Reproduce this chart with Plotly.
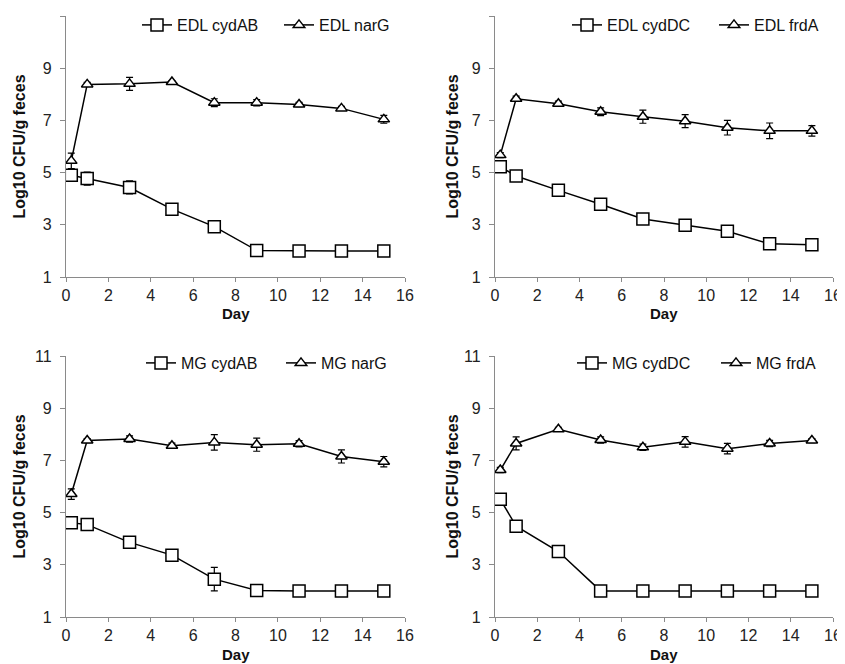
import plotly.graph_objects as go

days = [0.25, 1, 3, 5, 7, 9, 11, 13, 15]

# Panel A: EDL cydAB / EDL narG
edl_cydAB = [4.90, 4.77, 4.43, 3.60, 2.93, 2.02, 2.00, 2.00, 2.00]
edl_cydAB_err = [0.20, 0.25, 0.25, 0.05, 0.08, 0.0, 0.0, 0.0, 0.0]
edl_narG = [5.45, 8.38, 8.40, 8.47, 7.68, 7.68, 7.61, 7.46, 7.04]
edl_narG_err = [0.30, 0.08, 0.25, 0.05, 0.15, 0.12, 0.08, 0.08, 0.15]

# Panel B: EDL cydDC / EDL frdA
edl_cydDC = [5.22, 4.87, 4.32, 3.79, 3.22, 2.98, 2.75, 2.27, 2.24]
edl_cydDC_err = [0.08, 0.05, 0.05, 0.05, 0.05, 0.12, 0.12, 0.10, 0.05]
edl_frdA = [5.67, 7.83, 7.64, 7.33, 7.14, 6.97, 6.72, 6.60, 6.60]
edl_frdA_err = [0.10, 0.10, 0.10, 0.15, 0.25, 0.25, 0.28, 0.30, 0.20]

# Panel C: MG cydAB / MG narG
mg_cydAB = [4.61, 4.54, 3.86, 3.37, 2.45, 2.02, 2.00, 2.00, 2.00]
mg_cydAB_err = [0.10, 0.05, 0.05, 0.12, 0.45, 0.0, 0.0, 0.0, 0.0]
mg_narG = [5.71, 7.76, 7.82, 7.56, 7.69, 7.60, 7.64, 7.15, 6.95]
mg_narG_err = [0.20, 0.08, 0.12, 0.10, 0.30, 0.25, 0.12, 0.25, 0.20]

# Panel D: MG cydDC / MG frdA
mg_cydDC = [5.51, 4.48, 3.51, 2.00, 2.00, 2.00, 2.00, 2.00, 2.00]
mg_cydDC_err = [0.05, 0.05, 0.0, 0.0, 0.0, 0.0, 0.0, 0.0, 0.0]
mg_frdA = [6.63, 7.65, 8.19, 7.78, 7.50, 7.71, 7.45, 7.65, 7.76]
mg_frdA_err = [0.10, 0.25, 0.08, 0.12, 0.12, 0.20, 0.20, 0.12, 0.08]

panels = [
    ("EDL cydAB", edl_cydAB, edl_cydAB_err, "EDL narG", edl_narG, edl_narG_err),
    ("EDL cydDC", edl_cydDC, edl_cydDC_err, "EDL frdA", edl_frdA, edl_frdA_err),
    ("MG cydAB", mg_cydAB, mg_cydAB_err, "MG narG", mg_narG, mg_narG_err),
    ("MG cydDC", mg_cydDC, mg_cydDC_err, "MG frdA", mg_frdA, mg_frdA_err),
]

OFF = 8  # page body margin
W, H = 845 - OFF, 664 - OFF
FONT = "Arial, Liberation Sans, sans-serif"


def px(v):
    return (v - OFF) / W


def py(v):
    return 1 - (v - OFF) / H


# pixel boxes in the screenshot: (x0, x1, ytop, ybottom)
boxes = [(66, 405, 16, 277), (495, 833, 16, 277),
         (66, 405, 356, 617), (495, 833, 356, 617)]
# legend entry positions: (left x of each entry), (y, anchor)
legend_pos = [((137, 279), (8, "top")), ((567, 714), (8, "top")),
              ((141, 281), (363, "middle")), ((572, 716), (363, "middle"))]
ytitle_x = [19, 452, 19, 452]
xtitle_y = [313, 313, 654, 654]

fig = go.Figure()
legend_count = 0
for i, (n1, v1, e1, n2, v2, e2) in enumerate(panels):
    k = "" if i == 0 else str(i + 1)
    (lx1, lx2), (ly, lanchor) = legend_pos[i]
    for name, vals, errs, sym, size, lx in [
            (n1, v1, e1, "square", 12, lx1),
            (n2, v2, e2, "triangle-up", 10, lx2)]:
        legend_count += 1
        lg = "legend" if legend_count == 1 else "legend%d" % legend_count
        fig.add_trace(go.Scatter(
            x=days, y=vals, name=name, mode="lines+markers",
            xaxis="x" + k, yaxis="y" + k, legend=lg,
            line=dict(color="black", width=1.5),
            marker=dict(symbol=sym, size=size, color="white",
                        line=dict(color="black", width=1.5)),
            error_y=dict(type="data", array=errs, visible=True,
                         color="black", thickness=1.2, width=3.5),
        ))
        fig.update_layout(**{lg: dict(
            x=px(lx), y=py(ly), xanchor="left", yanchor=lanchor,
            orientation="h", bgcolor="rgba(0,0,0,0)", borderwidth=0,
            font=dict(family=FONT, size=16, color="#111"),
            tracegroupgap=0, itemwidth=30)})
    x0, x1, yt, yb = boxes[i]
    ax = dict(range=[0, 16], tickvals=list(range(0, 17, 2)),
              domain=[px(x0), px(x1)], anchor="y" + k, automargin=False,
              showgrid=False, zeroline=False, showline=True,
              linecolor="#8a8a8a", linewidth=1.3, ticks="outside",
              ticklen=4, tickcolor="#8a8a8a",
              tickfont=dict(family=FONT, size=16, color="#222"))
    ay = dict(range=[1, 11], tickvals=[1, 3, 5, 7, 9, 11],
              domain=[py(yb), py(yt)], anchor="x" + k,
              automargin=False, ticklabelstandoff=5,
              showgrid=False, zeroline=False, showline=True,
              linecolor="#8a8a8a", linewidth=1.3, ticks="outside",
              ticklen=5, tickcolor="#8a8a8a",
              tickfont=dict(family=FONT, size=16, color="#222"))
    fig.update_layout(**{"xaxis" + k: ax, "yaxis" + k: ay})
    fig.add_annotation(text="<b>Day</b>", x=px((x0 + x1) / 2),
                       y=py(xtitle_y[i]), xref="paper", yref="paper",
                       showarrow=False, xanchor="center", yanchor="middle",
                       font=dict(family=FONT, size=15, color="#111"))
    fig.add_annotation(text="<b>Log10 CFU/g feces</b>", x=px(ytitle_x[i]),
                       y=py((yt + yb) / 2), xref="paper", yref="paper",
                       showarrow=False, textangle=-90, xanchor="center",
                       yanchor="middle",
                       font=dict(family=FONT, size=16, color="#111"))

fig.update_layout(template="none", width=W, height=H, autosize=False,
                  margin=dict(l=0, r=0, t=0, b=0, pad=0),
                  paper_bgcolor="white", plot_bgcolor="white",
                  showlegend=True)
fig.write_html("out.html", config={"displayModeBar": False,
                                   "responsive": False})
